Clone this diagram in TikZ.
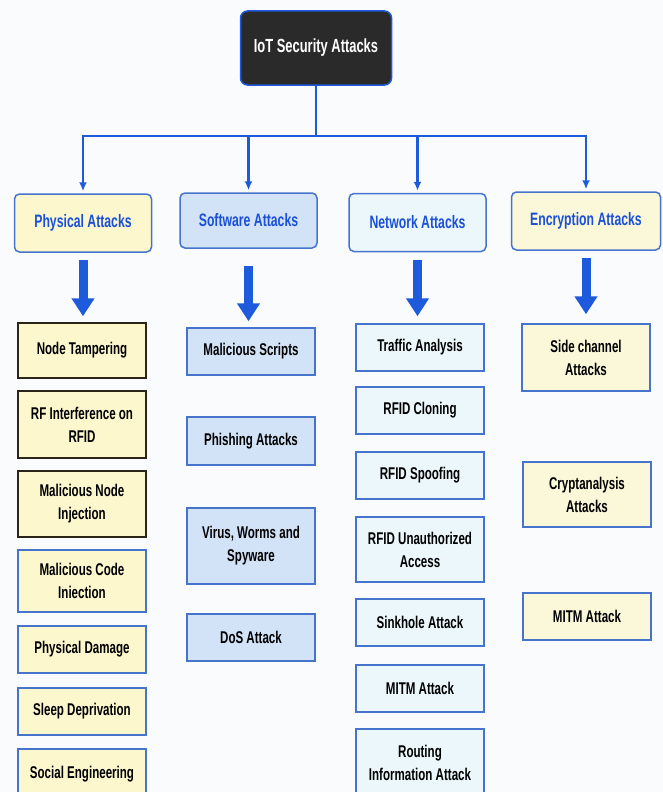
\documentclass[tikz,border=0pt]{standalone}
\usepackage{fontspec}
\setmainfont{Liberation Sans}[FakeStretch=0.68]
\usetikzlibrary{arrows.meta, positioning, calc}
\definecolor{rootfill}{HTML}{2A2A2A}
\definecolor{linkblue}{HTML}{1E5BDC}
\definecolor{headblue}{HTML}{1A50D8}
\definecolor{physfill}{HTML}{FDF7CE}
\definecolor{softfill}{HTML}{D3E3F7}
\definecolor{netfill}{HTML}{ECF7FC}
\definecolor{encfill}{HTML}{FBF8D9}
\definecolor{boxline}{HTML}{4674CC}
\definecolor{darkline}{HTML}{2B2418}
\definecolor{bgpaper}{HTML}{FAFBFC}

\begin{document}
\begin{tikzpicture}[x=1pt, y=-1pt, >=Latex,
    rootbox/.style={draw=linkblue, line width=1.5pt, fill=rootfill, rounded corners=7pt,
      text=white, font=\fontsize{19}{23}\selectfont\bfseries,
      minimum width=151pt, minimum height=74pt},
    catbox/.style={draw=boxline, line width=1.5pt, rounded corners=5pt, text=headblue,
      font=\fontsize{18}{22}\selectfont\bfseries, minimum width=137pt, minimum height=58pt},
    itembox/.style={draw=boxline, line width=1.5pt, align=center, inner sep=2pt,
      font=\fontsize{17}{23}\selectfont\bfseries, minimum width=128pt, minimum height=47pt},
    link/.style={draw=linkblue, line width=2.5pt, -{Latex[length=9pt,width=8pt]}},
    bigarrow/.style={draw=linkblue, line width=9pt, -{Triangle[length=18pt,width=22pt]}}]
  \useasboundingbox (0,0) rectangle (663,792);
  \clip (0,0) rectangle (663,792);
  \fill[bgpaper] (0,0) rectangle (663,792);

  % root and categories
  \node[rootbox] (root) at (316,48) {IoT Security Attacks};
  \node[catbox, fill=physfill] (phys) at (83,223) {Physical Attacks};
  \node[catbox, fill=softfill, minimum height=55pt] (soft) at (248.5,220.5) {Software Attacks};
  \node[catbox, fill=netfill] (net) at (417.5,222.5) {Network Attacks};
  \node[catbox, fill=encfill, minimum width=149pt] (enc) at (586,221) {Encryption Attacks};

  \coordinate (bar) at ($(root.south)+(0,50)$);
  \foreach \c in {phys,soft,net,enc}
    \draw[link, shorten >=2pt] (root.south) -- (bar) -| (\c.north);

  % physical attacks
  \begin{scope}[every node/.style={itembox, fill=physfill}]
    \node[draw=darkline, minimum height=55pt] (tamp) at (82,350.5) {Node Tampering};
    \node[draw=darkline, minimum height=67pt] (rfint) at (82,424.5) {RF Interference on\\RFID};
    \node[draw=darkline, minimum height=66pt] (nodeinj) at (82,504) {Malicious Node\\Injection};
    \node[minimum height=62pt] (codeinj) at (82,581) {Malicious Code\\Iniection};
    \node (damage) at (82,649.5) {Physical Damage};
    \node (sleep) at (82,711.5) {Sleep Deprivation};
    \node[minimum height=50pt] (social) at (82,774) {Social Engineering};
  \end{scope}

  % software attacks
  \begin{scope}[every node/.style={itembox, fill=softfill}]
    \node (scripts) at (251,351.5) {Malicious Scripts};
    \node[minimum height=48pt] (phish) at (251,441) {Phishing Attacks};
    \node[minimum height=76pt] (virus) at (251,546) {Virus, Worms and\\Spyware};
    \node (dos) at (251,637.5) {DoS Attack};
  \end{scope}

  % network attacks
  \begin{scope}[every node/.style={itembox, fill=netfill}]
    \node (traffic) at (420,347.5) {Traffic Analysis};
    \node (cloning) at (420,410.5) {RFID Cloning};
    \node (spoof) at (420,475.5) {RFID Spoofing};
    \node[minimum height=65pt] (unauth) at (420,549.5) {RFID Unauthorized\\Access};
    \node (sink) at (420,622.5) {Sinkhole Attack};
    \node (netmitm) at (420,688.5) {MITM Attack};
    \node[minimum height=67pt] (routing) at (420,762.5) {Routing\\Information Attack};
  \end{scope}

  % encryption attacks
  \begin{scope}[every node/.style={itembox, fill=encfill}]
    \node[minimum height=67pt] (side) at (586,357.5) {Side channel\\Attacks};
    \node[minimum height=65pt] (crypt) at (587,494.5) {Cryptanalysis\\Attacks};
    \node (encmitm) at (587,616.5) {MITM Attack};
  \end{scope}

  % thick arrows
  \draw[bigarrow, shorten <=7pt, shorten >=6pt] (phys.south) -- (phys.south |- tamp.north);
  \draw[bigarrow, shorten <=17pt, shorten >=6pt] (soft.south) -- (soft.south |- scripts.north);
  \draw[bigarrow, shorten <=8pt, shorten >=7pt] (net.south) -- (net.south |- traffic.north);
  \draw[bigarrow, shorten <=7pt, shorten >=9pt] (enc.south) -- (enc.south |- side.north);
\end{tikzpicture}
\end{document}
